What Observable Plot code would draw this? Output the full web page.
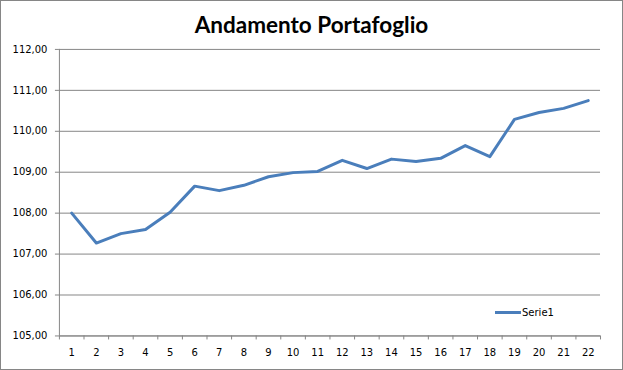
<!DOCTYPE html>
<html>
<head>
<meta charset="utf-8">
<script src="https://cdn.jsdelivr.net/npm/d3@7"></script>
<script src="https://cdn.jsdelivr.net/npm/@observablehq/plot@0.6"></script>
<style>
  html, body { margin: 0; padding: 0; background: #fff; }
  #wrap { position: relative; width: 623px; height: 370px; box-sizing: border-box; border: 1px solid #868686; overflow: hidden; }
  #chart { position: absolute; left: -1px; top: -1px; }
  #title { position: absolute; left: -1px; top: 10px; width: 623px; text-align: center;
           font-family: Lato, "Open Sans", sans-serif; font-weight: bold; font-size: 22.5px; color: #000; }
  #legend { position: absolute; left: 494px; top: 306px; font-family: "DejaVu Sans", sans-serif; font-size: 10px; color: #000; display: flex; align-items: center; }
  #legend .sw { width: 26px; height: 3px; background: #4a7ebb; margin-right: 1px; }
</style>
</head>
<body>
<div id="wrap">
  <div id="chart"></div>
  <div id="title">Andamento Portafoglio</div>
  <div id="legend"><div class="sw"></div><span>Serie1</span></div>
</div>
<script>
const categories = [1,2,3,4,5,6,7,8,9,10,11,12,13,14,15,16,17,18,19,20,21,22];
const serie1 = [108.00,107.27,107.50,107.60,108.02,108.66,108.55,108.68,108.89,108.99,109.02,109.29,109.09,109.32,109.26,109.34,109.65,109.38,110.29,110.46,110.56,110.75];
const yTicks = [105,106,107,108,109,110,111,112];

const data = categories.map((c, i) => ({x: c, y: serie1[i]}));
const boundaries = d3.range(0, categories.length + 1).map(i => i + 0.5);
const fmt = d => d.toFixed(2).replace(".", ",");

const chart = Plot.plot({
  width: 623,
  height: 370,
  marginTop: 49,
  marginBottom: 34,
  marginLeft: 59,
  marginRight: 22,
  style: {fontFamily: "'DejaVu Sans', sans-serif", fontSize: "10px", color: "#000", background: "transparent"},
  x: {type: "linear", domain: [0.5, categories.length + 0.5]},
  y: {domain: [105, 112]},
  marks: [
    Plot.gridY(yTicks, {stroke: "#868686", strokeOpacity: 1, strokeWidth: 1}),
    Plot.ruleX([0.5], {stroke: "#868686"}),
    Plot.ruleY([105], {stroke: "#868686"}),
    Plot.axisY(yTicks, {tickSize: 4, tickPadding: 8, tickFormat: fmt, stroke: "#868686", fill: "#000", label: null}),
    Plot.axisX(boundaries, {tickSize: 4, tickFormat: () => "", stroke: "#868686", label: null}),
    Plot.axisX(categories, {tickSize: 0, tickPadding: 13, tickFormat: d => String(d), fill: "#000", label: null}),
    Plot.line(data, {x: "x", y: "y", stroke: "#4a7ebb", strokeWidth: 3, strokeLinejoin: "round"})
  ]
});
document.getElementById("chart").appendChild(chart);
</script>
</body>
</html>
